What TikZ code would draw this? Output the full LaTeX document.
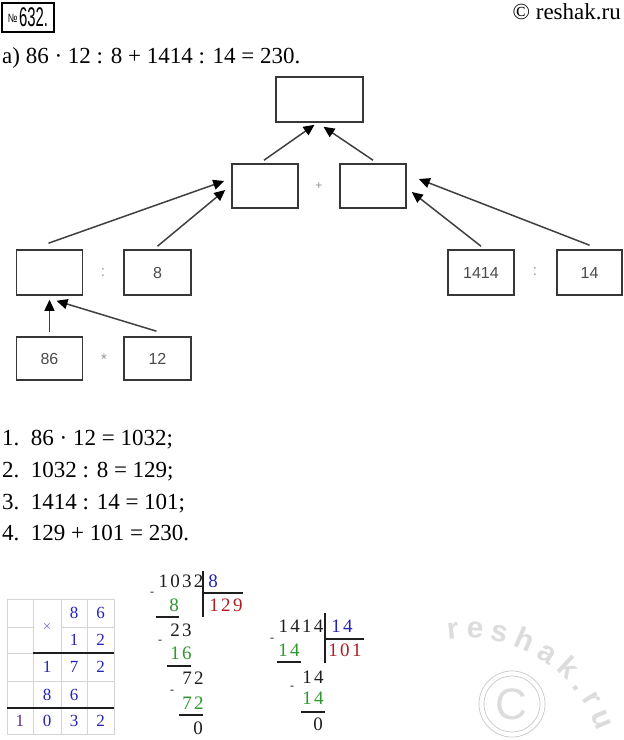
\documentclass[tikz,border=0pt]{standalone}
\usepackage{fontspec}
\setmainfont{Liberation Serif}
\setsansfont{Liberation Sans}
\newfontfamily\divfont[LetterSpace=12]{Liberation Serif}
\usetikzlibrary{arrows.meta,decorations.text}
\definecolor{boxgray}{RGB}{55,55,55}
\definecolor{linegray}{RGB}{64,64,64}
\definecolor{labgray}{RGB}{75,75,75}
\definecolor{opgray}{RGB}{150,150,150}
\definecolor{digblue}{RGB}{35,35,185}
\definecolor{digviolet}{RGB}{90,40,140}
\definecolor{timesblue}{RGB}{110,110,220}
\definecolor{quotred}{RGB}{175,30,35}
\definecolor{subgreen}{RGB}{45,150,45}
\definecolor{inkblack}{RGB}{30,30,30}
\definecolor{gridgray}{RGB}{212,212,212}
\definecolor{markgray}{RGB}{220,220,220}
\definecolor{ringgray}{RGB}{200,200,200}
\newcommand{\fsz}[1]{\fontsize{#1}{#1}\selectfont}

\begin{document}
\begin{tikzpicture}[x=1pt, y=1pt]
  \tikzset{
    box/.style={draw=boxgray, line width=1.6pt, minimum width=66pt, minimum height=45pt, inner sep=0pt, font=\sffamily\fsz{16}, text=labgray},
    link/.style={-{Triangle[length=11pt, width=10pt, color=black]}, draw=linegray, line width=1.5pt},
    op/.style={font=\sffamily\fsz{15}, text=opgray, inner sep=0pt},
    txt/.style={font=\fsz{23}, inner sep=0pt, anchor=base west},
    cell/.style={font=\fsz{17}, text=digblue, inner sep=0pt},
    num/.style={font=\divfont\fsz{19}, text=inkblack, inner sep=0pt},
    minus/.style={font=\fsz{12}, text=inkblack, inner sep=0pt},
    rule/.style={draw=inkblack, line width=1.1pt}
  }

  \fill[white] (0,0) rectangle (624,-740);
  \useasboundingbox (0,0) rectangle (624,-740);

  % Header
  \node[draw, line width=1.5pt, minimum width=52pt, minimum height=29pt, inner sep=0pt] (taskno) at (28,-17.5)
    {\sffamily\raisebox{4pt}{\fsz{12}\scalebox{0.75}[1]{№}}\,\fsz{27}\scalebox{0.55}[1]{632.}};
  \node[font=\fsz{23}, inner sep=0pt, anchor=base east] (site) at (621,-19) {© reshak.ru};
  \node[txt] (task) at (2,-63) {а) 86 · 12 : 8 + 1414 : 14 = 230.};

  % Expression tree
  \node[box, minimum width=87pt] (total) at (319.5,-99.5) {};
  \node[box, minimum height=44pt] (sumL) at (265,-186) {};
  \node[box, minimum height=44pt] (sumR) at (373,-186) {};
  \node[op, font=\sffamily\fsz{12}] (plus) at (319,-186) {+};

  \node[box] (quot) at (49.5,-272.5) {};
  \node[box, minimum width=67pt] (divisor) at (157.5,-272.5) {8};
  \node[op] (colonL) at (103,-273) {:};
  \node[box] (dividend) at (481,-272.5) {1414};
  \node[box, minimum width=65pt] (divisorR) at (589.5,-272.5) {14};
  \node[op] (colonR) at (535,-272) {:};

  \node[box, minimum height=43pt] (factA) at (49.5,-358.5) {86};
  \node[box, minimum width=67pt, minimum height=43pt] (factB) at (157.5,-358.5) {12};
  \node[op] (times) at (104,-359) {*};

  \draw[link] ([yshift=4pt]factA.north) -- ([yshift=-4pt]quot.south);
  \draw[link] ([xshift=-1pt,yshift=5pt]factB.north) -- ([xshift=7pt,yshift=-5pt]quot.south);
  \draw[link] ([xshift=-1pt,yshift=6pt]quot.north) -- ([xshift=-7pt,yshift=5pt]sumL.west);
  \draw[link] ([yshift=3pt]divisor.north) -- ([xshift=-6pt,yshift=-4pt]sumL.west);
  \draw[link] ([yshift=3pt]dividend.north) -- ([xshift=5pt,yshift=-6pt]sumR.east);
  \draw[link] ([yshift=4pt]divisorR.north) -- ([xshift=12pt,yshift=7pt]sumR.east);
  \draw[link] ([xshift=-1pt,yshift=3pt]sumL.north) -- ([xshift=-5pt,yshift=-2pt]total.south);
  \draw[link] ([yshift=3pt]sumR.north) -- ([xshift=4pt,yshift=-4pt]total.south);

  % Steps
  \node[txt] (step1) at (2,-445) {1.\ \ 86 · 12 = 1032;};
  \node[txt] (step2) at (2,-477) {2.\ \ 1032 : 8 = 129;};
  \node[txt] (step3) at (2,-509) {3.\ \ 1414 : 14 = 101;};
  \node[txt] (step4) at (2,-540) {4.\ \ 129 + 101 = 230.};

  % Column multiplication
  \draw[gridgray, line width=0.8pt] (7,-599) rectangle (114,-734);
  \foreach \x in {33,61,87}
    \draw[gridgray, line width=0.8pt] (\x,-599) -- (\x,-734);
  \foreach \y in {681}
    \draw[gridgray, line width=0.8pt] (7,-\y) -- (114,-\y);
  \draw[gridgray, line width=0.8pt] (7,-627) -- (33,-627) (61,-627) -- (114,-627);
  \draw[gridgray, line width=0.8pt] (7,-653) -- (33,-653);
  \draw[inkblack, line width=1.3pt] (33,-653) -- (114,-653);
  \draw[inkblack, line width=1.3pt] (7,-708) -- (114,-708);

  \node[cell, text=timesblue, font=\fsz{15}] (mx) at (47,-627) {×};
  \node[cell] (m13) at (74,-613) {8};
  \node[cell] (m14) at (100.5,-613) {6};
  \node[cell] (m23) at (74,-640) {1};
  \node[cell] (m24) at (100.5,-640) {2};
  \node[cell] (m32) at (47,-667) {1};
  \node[cell] (m33) at (74,-667) {7};
  \node[cell] (m34) at (100.5,-667) {2};
  \node[cell] (m42) at (47,-694.5) {8};
  \node[cell] (m43) at (74,-694.5) {6};
  \node[cell, text=digviolet] (m51) at (20,-721) {1};
  \node[cell] (m52) at (47,-721) {0};
  \node[cell] (m53) at (74,-721) {3};
  \node[cell] (m54) at (100.5,-721) {2};

  % Long division 1032 : 8
  \node[num] (dvdA) at (181,-581) {1032};
  \node[num, text=digblue] (dsrA) at (213,-581) {8};
  \node[num, text=quotred] (quoA) at (226,-605) {129};
  \node[num, text=subgreen] (subA1) at (174,-605) {8};
  \node[num] (remA1) at (181,-630) {23};
  \node[num, text=subgreen] (subA2) at (181,-653) {16};
  \node[num] (remA2) at (193,-678) {72};
  \node[num, text=subgreen] (subA3) at (193,-703) {72};
  \node[num] (remA3) at (198,-728) {0};
  \node[minus] at (152,-594) {-};
  \node[minus] at (160,-642) {-};
  \node[minus] at (172,-692) {-};
  \draw[rule] (203,-571) -- (203,-617);
  \draw[rule] (203,-593) -- (243,-593);
  \draw[rule] (156,-617) -- (179,-617);
  \draw[rule] (167,-666) -- (191,-666);
  \draw[rule] (179,-715) -- (203,-715);

  % Long division 1414 : 14
  \node[num] (dvdB) at (301,-626) {1414};
  \node[num, text=digblue] (dsrB) at (342,-626) {14};
  \node[num, text=quotred] (quoB) at (345,-650) {101};
  \node[num, text=subgreen] (subB1) at (289,-650) {14};
  \node[num] (remB1) at (313,-677) {14};
  \node[num, text=subgreen] (subB2) at (313,-698) {14};
  \node[num] (remB2) at (318,-724) {0};
  \node[minus] at (272,-640) {-};
  \node[minus] at (292,-688) {-};
  \draw[rule] (325,-613) -- (325,-663);
  \draw[rule] (325,-639) -- (364,-639);
  \draw[rule] (277,-662) -- (301,-662);
  \draw[rule] (301,-712) -- (325,-712);

  % Watermark
  \coordinate (arcc) at (467,-776);
  \path[decorate, decoration={text along path, text align={fit to path},
      text={|\sffamily\bfseries\fsz{30}\color{markgray}|reshak.ru}}]
    ([shift={(98:138)}]arcc) arc[start angle=98, end angle=19, radius=138];
  \draw[ringgray, line width=0.7pt] (512,-704) circle (33) (512,-704) circle (28);
  \node[font=\sffamily\fsz{44}, text=markgray, inner sep=0pt] (copyc) at (511,-704) {C};
\end{tikzpicture}
\end{document}
